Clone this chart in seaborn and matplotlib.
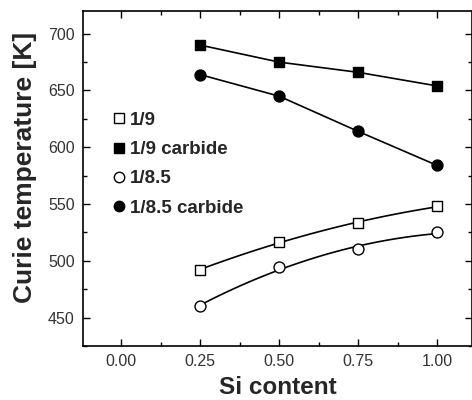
import numpy as np
import pandas as pd
import matplotlib
matplotlib.use("Agg")
import matplotlib.pyplot as plt
from matplotlib.lines import Line2D
from matplotlib.ticker import MultipleLocator
import seaborn as sns

si = [0.25, 0.50, 0.75, 1.00]
t_19 = [492, 517, 533, 548]
t_19_carbide = [690, 675, 666, 654]
t_185 = [460, 495, 510, 525]
t_185_carbide = [664, 645, 614, 584]
labels = ["1/9", "1/9 carbide", "1/8.5", "1/8.5 carbide"]
xticks = [0.00, 0.25, 0.50, 0.75, 1.00]
yticks = [450, 500, 550, 600, 650, 700]

sns.set_theme(style="ticks")
plt.rcParams["font.family"] = ["Liberation Sans", "DejaVu Sans"]

fig = plt.figure(figsize=(4.72, 4.0), dpi=100)
ax = fig.add_axes([0.176, 0.135, 0.824, 0.8375])

series = [t_19, t_19_carbide, t_185, t_185_carbide]
markers = ["s", "s", "o", "o"]
fills = ["white", "black", "white", "black"]
smooth = [True, False, True, False]

for lab, vals, m, fc, sm in zip(labels, series, markers, fills, smooth):
    df = pd.DataFrame({"x": si, "y": vals})
    if sm:
        c = np.polyfit(si, vals, 2)
        xs = np.linspace(si[0], si[-1], 100)
        dfl = pd.DataFrame({"x": xs, "y": np.polyval(c, xs)})
    else:
        dfl = df
    sns.lineplot(data=dfl, x="x", y="y", ax=ax, color="black", lw=1.2, sort=False)
    sns.scatterplot(data=df, x="x", y="y", ax=ax, marker=m, s=62,
                    facecolor=fc, edgecolor="black", linewidth=1.0, zorder=3)

ax.set_xlim(-0.12, 1.11)
ax.set_ylim(425, 720)
ax.set_xticks(xticks)
ax.set_xticklabels([f"{v:.2f}" for v in xticks])
ax.set_yticks(yticks)
ax.xaxis.set_minor_locator(MultipleLocator(0.125))
ax.yaxis.set_minor_locator(MultipleLocator(25))
ax.tick_params(which="both", direction="in", top=True, right=True, labelsize=11.5, color="black", labelcolor="#333333")
ax.tick_params(which="major", length=5, width=1, pad=6)
ax.tick_params(which="minor", length=3, width=1)
for s in ax.spines.values():
    s.set_linewidth(1.2)
    s.set_color("black")

ax.set_xlabel("Si content", fontsize=17.5, fontweight="bold", labelpad=5)
ax.set_ylabel("Curie temperature [K]", fontsize=19, fontweight="bold")
ax.yaxis.set_label_coords(-0.118, 0.533)

handles = [Line2D([], [], marker=m, ls="none", mfc=fc, mec="black", ms=7.5, mew=1.0)
           for m, fc in zip(markers, fills)]
leg = ax.legend(handles, labels, loc="upper left", bbox_to_anchor=(0.026, 0.75),
                frameon=False, handletextpad=0.05, labelspacing=0.65, handlelength=1.0,
                prop={"weight": "bold", "size": 13.5})

fig.savefig("out.png", dpi=100)
